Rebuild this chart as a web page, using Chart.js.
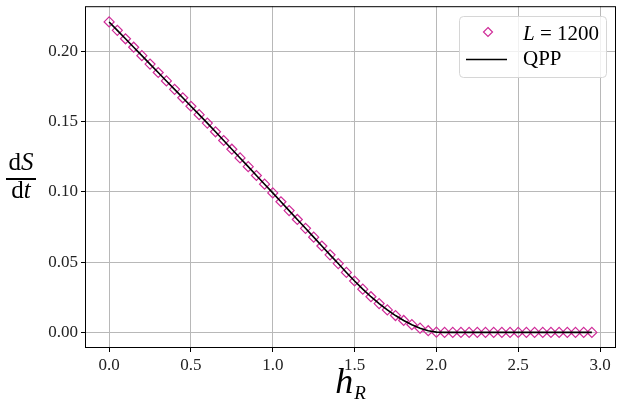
<!DOCTYPE html>
<html>
<head>
<meta charset="utf-8">
<script src="https://cdn.jsdelivr.net/npm/chart.js@4.4.1/dist/chart.umd.min.js"></script>
<style>
html, body { margin: 0; padding: 0; background: #fff; }
</style>
</head>
<body>
<canvas id="graph" width="623" height="410"></canvas>
<script>
// values
const hR = [0, 0.05, 0.1, 0.15, 0.2, 0.25, 0.3, 0.35, 0.4, 0.45,
  0.5, 0.55, 0.6, 0.65, 0.7, 0.75, 0.8, 0.85, 0.9, 0.95,
  1.0, 1.05, 1.1, 1.15, 1.2, 1.25, 1.3, 1.35, 1.4, 1.45,
  1.5, 1.55, 1.6, 1.65, 1.7, 1.75, 1.8, 1.85, 1.9, 1.95,
  2.0, 2.05, 2.1, 2.15, 2.2, 2.25, 2.3, 2.35, 2.4, 2.45,
  2.5, 2.55, 2.6, 2.65, 2.7, 2.75, 2.8, 2.85, 2.9, 2.95];
const dSdtL1200 = [0.2210, 0.2150, 0.2090, 0.2030, 0.1970, 0.1910, 0.1850, 0.1790, 0.1730, 0.1670,
  0.1610, 0.1550, 0.1490, 0.1428, 0.1366, 0.1304, 0.1242, 0.1180, 0.1117, 0.1055,
  0.0993, 0.0930, 0.0867, 0.0804, 0.0741, 0.0678, 0.0615, 0.0552, 0.0490, 0.0427,
  0.0366, 0.0308, 0.0254, 0.0205, 0.0160, 0.0120, 0.0085, 0.0055, 0.0030, 0.0012,
  0.0002, 0, 0, 0, 0, 0, 0, 0, 0, 0,
  0, 0, 0, 0, 0, 0, 0, 0, 0, 0];
const dSdtQPP = [0.2210, 0.2150, 0.2090, 0.2030, 0.1970, 0.1910, 0.1850, 0.1790, 0.1730, 0.1670,
  0.1610, 0.1550, 0.1490, 0.1428, 0.1366, 0.1304, 0.1242, 0.1180, 0.1117, 0.1055,
  0.0993, 0.0930, 0.0867, 0.0804, 0.0741, 0.0678, 0.0615, 0.0552, 0.0490, 0.0427,
  0.0366, 0.0308, 0.0254, 0.0205, 0.0160, 0.0120, 0.0085, 0.0055, 0.0030, 0.0012,
  0.0002, 0, 0, 0, 0, 0, 0, 0, 0, 0,
  0, 0, 0, 0, 0, 0, 0, 0, 0, 0];
const xTicks = [0, 0.5, 1.0, 1.5, 2.0, 2.5, 3.0];
const yTicks = [0, 0.05, 0.10, 0.15, 0.20];

const serif = '"Liberation Serif", "DejaVu Serif", serif';
const pink = '#d02c99';

// draw a row of text pieces (mixing italic / upright) centred or left-aligned
function runs(ctx, parts, x, y, align) {
  let w = 0;
  parts.forEach(p => { ctx.font = p.f; w += ctx.measureText(p.t).width + (p.dx || 0); });
  let cx = align === 'center' ? x - w / 2 : x;
  ctx.textAlign = 'left';
  parts.forEach(p => {
    ctx.font = p.f;
    ctx.fillText(p.t, cx, y + (p.dy || 0));
    cx += ctx.measureText(p.t).width + (p.dx || 0);
  });
}

const extras = {
  id: 'extras',
  afterDraw(c) {
    const ctx = c.ctx, a = c.chartArea;
    ctx.save();
    // frame
    ctx.strokeStyle = '#000';
    ctx.lineWidth = 1;
    ctx.strokeRect(a.left + 0.5, a.top + 0.5, a.right - a.left - 1, a.bottom - a.top - 1);

    ctx.fillStyle = '#000';
    ctx.textBaseline = 'alphabetic';
    // y label as a fraction
    runs(ctx, [{t: 'd', f: '25px ' + serif}, {t: 'S', f: 'italic 25px ' + serif}], 21, 170, 'center');
    ctx.fillRect(6, 178, 30, 2);
    runs(ctx, [{t: 'd', f: '25px ' + serif}, {t: 't', f: 'italic 25px ' + serif}], 21, 198, 'center');

    // x label
    runs(ctx, [{t: 'h', f: 'italic 36px ' + serif, dx: 1}, {t: 'R', f: 'italic 19px ' + serif, dy: 6}],
      (a.left + a.right) / 2, 393, 'center');

    // legend
    ctx.beginPath();
    ctx.roundRect(459.5, 16.5, 147, 61, 4);
    ctx.fillStyle = 'rgba(255,255,255,0.8)';
    ctx.fill();
    ctx.strokeStyle = '#d6d6d6';
    ctx.stroke();

    ctx.beginPath();
    ctx.moveTo(488, 27.5); ctx.lineTo(492.5, 32); ctx.lineTo(488, 36.5); ctx.lineTo(483.5, 32); ctx.closePath();
    ctx.strokeStyle = pink;
    ctx.lineWidth = 1.2;
    ctx.stroke();

    ctx.beginPath();
    ctx.moveTo(466, 59.5); ctx.lineTo(507, 59.5);
    ctx.strokeStyle = '#000';
    ctx.lineWidth = 1.6;
    ctx.stroke();

    ctx.fillStyle = '#000';
    runs(ctx, [{t: 'L', f: 'italic 21px ' + serif}, {t: ' = 1200', f: '21px ' + serif}], 523, 40, 'left');
    runs(ctx, [{t: 'QPP', f: '21px ' + serif}], 523, 65, 'left');
    ctx.restore();
  }
};

new Chart('graph', {
  type: 'scatter',
  data: {
    datasets: [
      {
        label: 'QPP',
        data: hR.map((h, i) => ({x: h, y: dSdtQPP[i]})),
        showLine: true,
        borderColor: '#000',
        borderWidth: 1.6,
        pointRadius: 0,
        tension: 0
      },
      {
        label: 'L = 1200',
        data: hR.map((h, i) => ({x: h, y: dSdtL1200[i]})),
        pointStyle: 'rectRot',
        pointRadius: 5,
        pointBorderWidth: 1.2,
        borderColor: pink,
        backgroundColor: 'rgba(0,0,0,0)'
      }
    ]
  },
  options: {
    responsive: false,
    animation: false,
    devicePixelRatio: 1,
    layout: {padding: {left: 0, top: 6, right: 7, bottom: 0}},
    plugins: {legend: {display: false}, tooltip: {enabled: false}},
    scales: {
      x: {
        type: 'linear',
        min: -0.1475,
        max: 3.0975,
        afterBuildTicks: s => { s.ticks = xTicks.map(v => ({value: v})); },
        afterFit: s => { s.height = 62; s.paddingLeft = 0; s.paddingRight = 0; },
        grid: {color: '#b8b8b8', lineWidth: 1, tickColor: '#000', tickLength: 4},
        border: {display: false},
        ticks: {
          color: '#222',
          font: {family: serif, size: 17},
          padding: 3,
          maxRotation: 0,
          callback: v => v.toFixed(1)
        }
      },
      y: {
        min: -0.0111,
        max: 0.2322,
        afterBuildTicks: s => { s.ticks = yTicks.map(v => ({value: v})); },
        afterFit: s => { s.width = 85; s.paddingTop = 0; s.paddingBottom = 0; },
        grid: {color: '#b8b8b8', lineWidth: 1, tickColor: '#000', tickLength: 4},
        border: {display: false},
        ticks: {
          color: '#222',
          font: {family: serif, size: 17},
          padding: 3,
          callback: v => v.toFixed(2)
        }
      }
    }
  },
  plugins: [extras]
});
</script>
</body>
</html>
